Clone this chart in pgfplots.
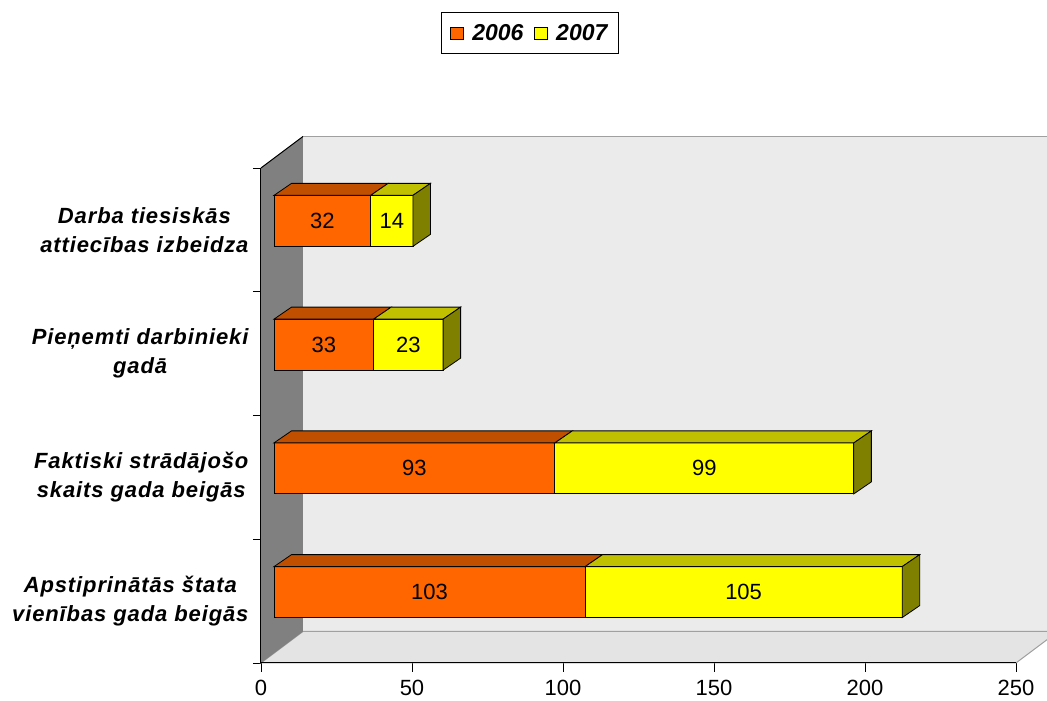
\documentclass[border=0pt]{standalone}
\usepackage{pgfplots}
\pgfplotsset{compat=1.18}
\usepackage{fontspec}
\setmainfont{Liberation Sans}
\definecolor{c06}{HTML}{FF6600}
\definecolor{c06top}{HTML}{C04F00}
\definecolor{c07}{HTML}{FFFF00}
\definecolor{c07top}{HTML}{C0C000}
\definecolor{c07side}{HTML}{808000}
\definecolor{wall}{HTML}{EBEBEB}
\definecolor{floorc}{HTML}{E4E4E4}
\definecolor{sidewall}{HTML}{808080}
\definecolor{wallline}{HTML}{A0A0A0}
\pgfplotsset{
  base/.style={
    scale only axis, width=755pt, height=495pt,
    xmin=0, xmax=250, ymin=0, ymax=4,
    clip=false, anchor=south west,
  }
}
\newcommand{\face}[2]{\addplot[fill=#1, draw=black, line width=0.8pt, forget plot] coordinates {#2} --cycle;}
\begin{document}
\begin{tikzpicture}
\useasboundingbox (-261pt,-38pt) rectangle (786pt,663pt);
\clip (-261pt,-38pt) rectangle (786pt,663pt);
% ---------- axis 1: walls, axis lines, ticks, category labels
\begin{axis}[base, at={(0pt,0pt)},
  axis x line*=bottom, axis y line*=left,
  axis line style={black, line width=1pt},
  xtick={0,50,100,150,200,250},
  ytick={0.5,1.5,2.5,3.5},
  yticklabels={{Apstiprinātās štata\\vienības gada beigās},
               {Faktiski strādājošo\\skaits gada beigās},
               {Pieņemti darbinieki\\gadā},
               {Darba tiesiskās\\attiecības izbeidza}},
  minor ytick={0,1,2,3,4},
  tick align=outside,
  major tick length=9pt, minor tick length=8pt,
  every major y tick/.style={draw=none},
  tick style={black, line width=0.8pt},
  /pgf/number format/assume math mode=true,
  xticklabel style={font=\fontsize{22}{26}\selectfont, yshift=-5pt},
  yticklabel style={align=center, font=\fontsize{22}{29}\selectfont\bfseries\itshape\addfontfeature{LetterSpace=4}},
]
\fill[wall, draw=wallline, line width=1pt] ([shift={(42pt,31.5pt)}]axis cs:0,0) -- ([shift={(42pt,31.5pt)}]axis cs:0,4) -- ([shift={(42pt,31.5pt)}]axis cs:260,4) -- ([shift={(42pt,31.5pt)}]axis cs:260,0) -- cycle;
\fill[floorc, draw=wallline, line width=1pt] (axis cs:0,0) -- (axis cs:250,0) -- ([shift={(42pt,31.5pt)}]axis cs:250,0) -- ([shift={(42pt,31.5pt)}]axis cs:0,0) -- cycle;
\fill[sidewall] (axis cs:0,0) -- (axis cs:0,4) -- ([shift={(42pt,31.5pt)}]axis cs:0,4) -- ([shift={(42pt,31.5pt)}]axis cs:0,0) -- cycle;
\draw[black, line width=1pt] (axis cs:0,4) -- ([shift={(42pt,31.5pt)}]axis cs:0,4);
\draw[black, line width=1pt] (axis cs:0,4) -- (axis cs:0,0) -- (axis cs:250,0);
\end{axis}
% ---------- axis 2: stacked bars (front faces) and legend
\begin{axis}[base, at={(13pt,9pt)}, hide axis,
  xbar stacked, bar width=51pt,
  legend columns=2,
  legend image code/.code={\draw[#1, draw=black, line width=0.8pt] (0pt,-6pt) rectangle (13pt,6pt);},
  legend style={at={(0.339,1.2545)}, anchor=center, draw=black, line width=0.8pt, fill=white,
    font=\fontsize{23}{27}\selectfont\bfseries\itshape,
    inner xsep=9pt, inner ysep=9.5pt,
    /tikz/every odd column/.append style={column sep=6pt},
    /tikz/every even column/.append style={column sep=9pt}},
]
\addplot[fill=c06, draw=black, line width=0.8pt] coordinates {(103,0.5) (93,1.5) (33,2.5) (32,3.5)};
\addlegendentry{2006}
\addplot[fill=c07, draw=black, line width=0.8pt] coordinates {(105,0.5) (99,1.5) (23,2.5) (14,3.5)};
\addlegendentry{2007}
\end{axis}
% ---------- axis 3: 3D top/side faces and value labels
\begin{axis}[base, at={(13pt,9pt)}, hide axis]
\face{c06top}{(0,0.706) (103,0.706) (108.8,0.803) (5.8,0.803)}
\face{c07top}{(103,0.706) (208,0.706) (213.8,0.803) (108.8,0.803)}
\face{c07side}{(208,0.294) (208,0.706) (213.8,0.803) (213.8,0.391)}
\face{c06top}{(0,1.706) (93,1.706) (98.8,1.803) (5.8,1.803)}
\face{c07top}{(93,1.706) (192,1.706) (197.8,1.803) (98.8,1.803)}
\face{c07side}{(192,1.294) (192,1.706) (197.8,1.803) (197.8,1.391)}
\face{c06top}{(0,2.706) (33,2.706) (38.8,2.803) (5.8,2.803)}
\face{c07top}{(33,2.706) (56,2.706) (61.8,2.803) (38.8,2.803)}
\face{c07side}{(56,2.294) (56,2.706) (61.8,2.803) (61.8,2.391)}
\face{c06top}{(0,3.706) (32,3.706) (37.8,3.803) (5.8,3.803)}
\face{c07top}{(32,3.706) (46,3.706) (51.8,3.803) (37.8,3.803)}
\face{c07side}{(46,3.294) (46,3.706) (51.8,3.803) (51.8,3.391)}
\addplot[draw=none, mark=none, forget plot,
  nodes near coords, point meta=explicit symbolic, nodes near coords align={center},
  every node near coord/.append style={font=\fontsize{22}{26}\selectfont, text=black, inner sep=0pt}]
  coordinates {(51.5,0.5)[103] (155.5,0.5)[105]
               (46.5,1.5)[93] (142.5,1.5)[99]
               (16.5,2.5)[33] (44.5,2.5)[23]
               (16,3.5)[32] (39,3.5)[14]};
\end{axis}
\end{tikzpicture}
\end{document}
